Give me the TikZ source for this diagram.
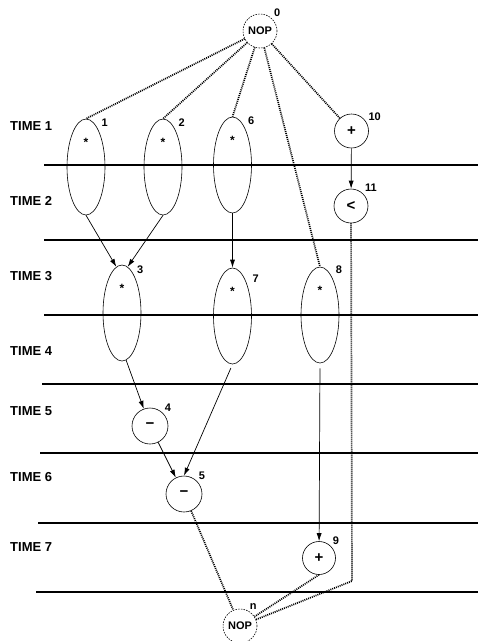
\documentclass[tikz,border=0pt]{standalone}
\usepackage{fontspec}
\setmainfont{Liberation Sans}
\usetikzlibrary{shapes.geometric, arrows.meta, positioning}

\begin{document}
\begin{tikzpicture}[
    x=1pt, y=-1pt,
    opnode/.style={draw, ellipse, line width=0.6pt, minimum width=38pt,
                   minimum height=96pt, inner sep=0pt, text height=6pt,
                   text depth=48pt, font=\bfseries\fontsize{12}{12}\selectfont},
    opcirc/.style={draw, circle, line width=0.6pt, minimum size=34pt,
                   inner sep=0pt, font=\bfseries\fontsize{15}{15}\selectfont},
    nopnode/.style={draw, circle, line width=0.6pt, dash pattern=on 1.5pt off 1.2pt,
                    minimum size=34pt, inner sep=0pt,
                    font=\bfseries\fontsize{11}{11}\selectfont},
    numlab/.style={font=\bfseries\fontsize{11}{11}\selectfont, inner sep=1pt},
    timelab/.style={anchor=west, inner sep=0pt,
                    font=\bfseries\fontsize{13}{13}\selectfont},
    rule/.style={line width=1.5pt},
    arr/.style={-{Latex[length=8pt,width=5pt]}, line width=0.7pt},
    dep/.style={line width=1.7pt, dash pattern=on 1pt off 1pt}
  ]
    \useasboundingbox (0,0) rectangle (478,641);

    % time steps
    \foreach \yy/\xx in {165/44, 240/44, 315/44, 384/42, 453/40, 523/38, 592/36}
      \draw[rule] (\xx,\yy) -- (478,\yy);
    \foreach \t/\yy in {1/126, 2/201, 3/276, 4/351, 5/411, 6/477, 7/547}
      \node[timelab] (time\t) at (10,\yy) {TIME \t};

    % operations
    \node[nopnode, label={[numlab, label distance=1pt]45:0}] (n0) at (260,31) {NOP};
    \node[opnode, label={[numlab, label distance=4pt]70:1}] (n1) at (86,167) {*};
    \node[opnode, label={[numlab, label distance=4pt]70:2}] (n2) at (163,167) {*};
    \node[opnode, label={[numlab, label distance=4pt]70:6}] (n6) at (232.5,165) {*};
    \node[opcirc, label={[numlab, label distance=1pt]30:10}] (n10) at (351.5,131) {+};
    \node[opcirc, label={[numlab, label distance=1pt]45:11}] (n11) at (351,206) {<};
    \node[opnode, label={[numlab, label distance=3pt]70:3}] (n3) at (122,313) {*};
    \node[opnode, label={[numlab, label distance=6pt]60:7}] (n7) at (232.5,316) {*};
    \node[opnode, label={[numlab, label distance=5pt]70:8}] (n8) at (320,315) {*};
    \node[opcirc, minimum size=36pt, label={[numlab, label distance=1pt]45:4}] (n4) at (150,426) {−};
    \node[opcirc, minimum size=36pt, label={[numlab, label distance=1pt]45:5}] (n5) at (184,494) {−};
    \node[opcirc, minimum size=33pt, label={[numlab, label distance=1pt]45:9}] (n9) at (319,558) {+};
    \node[nopnode, label={[numlab, label distance=0pt]60:n}] (nn) at (240,626) {NOP};
    \coordinate (turn) at (352,581);

    % dependences
    \draw[dep] (n0) -- (n1.north);
    \draw[dep] (n0) -- (n2.north);
    \draw[dep] (n0) -- (n6.north);
    \draw[dep] (n0) -- (n8.north);
    \draw[dep] (n0) -- (n10);
    \draw[arr] (n1.south) -- (n3.97);
    \draw[arr] (n2.south) -- (n3.83);
    \draw[arr] (n6.south) -- (n7.north);
    \draw[arr] (n10) -- (n11);
    \draw[arr] (n3.-85) -- (n4);
    \draw[arr] (n4) -- (n5);
    \draw[arr, shorten <=4pt] (n7.south) -- (n5.north);
    \draw[arr, shorten <=5pt] (n8.south) -- (n9);
    \draw[dep] (n5) -- (nn);
    \draw[dep] (n9.south) -- (nn);
    \draw[dep] (n11) -- (turn) -- (nn);
\end{tikzpicture}
\end{document}
